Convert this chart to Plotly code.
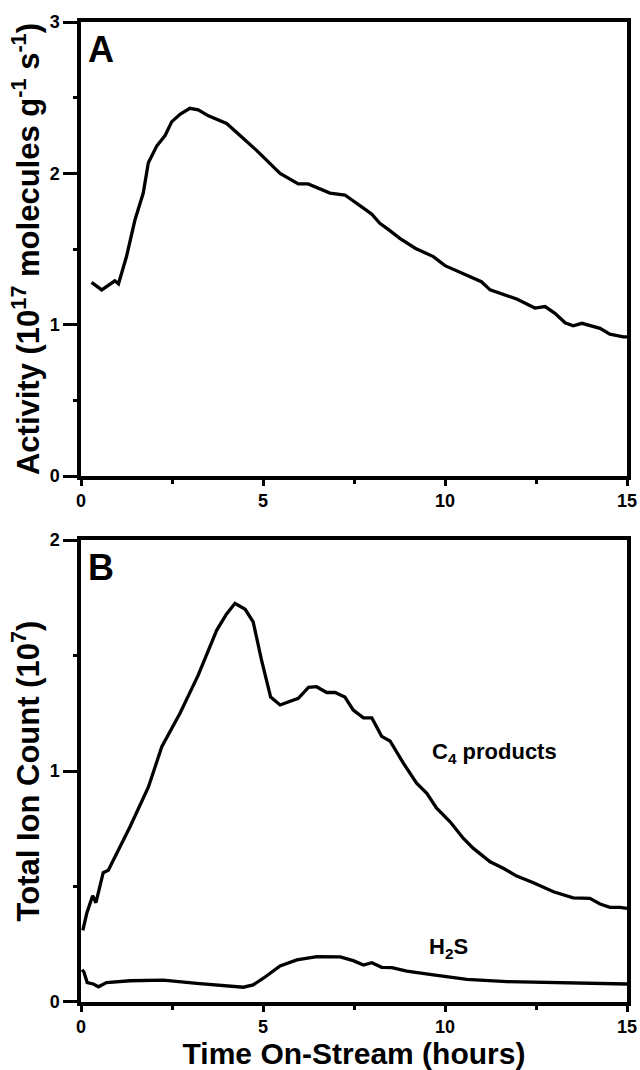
import plotly.graph_objects as go

# ---- Panel A: catalytic activity (10^17 molecules g^-1 s^-1) ----
act_x = [0.29, 0.57, 0.93, 1.03, 1.25, 1.48, 1.71, 1.85, 2.08, 2.31, 2.49, 2.72, 2.99,
         3.22, 3.5, 4.0, 4.37, 4.83, 5.47, 5.97, 6.24, 6.57, 6.84, 7.25, 7.48, 7.76,
         7.99, 8.21, 8.44, 8.76, 9.18, 9.68, 10.0, 10.46, 11.0, 11.24, 11.97, 12.47,
         12.75, 13.02, 13.3, 13.52, 13.76, 14.26, 14.53, 14.9, 15.0]
act_y = [1.28, 1.23, 1.29, 1.27, 1.45, 1.69, 1.87, 2.07, 2.18, 2.25, 2.34, 2.39, 2.43,
         2.42, 2.38, 2.33, 2.25, 2.15, 2.0, 1.93, 1.93, 1.895, 1.87, 1.857, 1.82, 1.77,
         1.73, 1.67, 1.63, 1.57, 1.505, 1.45, 1.39, 1.34, 1.284, 1.23, 1.17, 1.11,
         1.12, 1.075, 1.013, 0.993, 1.009, 0.976, 0.938, 0.92, 0.92]

# ---- Panel B: total ion count (10^7) ----
c4_x = [0.05, 0.16, 0.32, 0.41, 0.61, 0.75, 1.35, 1.85, 2.22, 2.72, 3.22, 3.73, 4.0,
        4.23, 4.51, 4.73, 4.96, 5.21, 5.47, 5.97, 6.25, 6.47, 6.75, 6.98, 7.25, 7.48,
        7.76, 7.99, 8.26, 8.49, 8.86, 9.22, 9.5, 9.77, 10.14, 10.5, 10.78, 11.24, 11.6,
        11.97, 12.43, 12.98, 13.52, 13.98, 14.26, 14.53, 14.81, 15.0]
c4_y = [0.31, 0.385, 0.46, 0.43, 0.56, 0.57, 0.76, 0.93, 1.105, 1.25, 1.415, 1.61, 1.68,
        1.726, 1.70, 1.646, 1.48, 1.32, 1.286, 1.315, 1.362, 1.365, 1.34, 1.34, 1.32,
        1.264, 1.23, 1.23, 1.15, 1.13, 1.033, 0.947, 0.903, 0.839, 0.78, 0.709, 0.665,
        0.607, 0.579, 0.545, 0.516, 0.477, 0.451, 0.449, 0.424, 0.41, 0.41, 0.405]

h2s_x = [0.03, 0.08, 0.17, 0.34, 0.48, 0.7, 1.35, 2.26, 3.18, 4.0, 4.46, 4.73, 5.01,
         5.47, 5.93, 6.48, 7.12, 7.48, 7.76, 7.99, 8.26, 8.54, 8.95, 9.68, 10.6, 11.7,
         13.07, 14.07, 15.0]
h2s_y = [0.14, 0.13, 0.084, 0.078, 0.066, 0.084, 0.092, 0.095, 0.081, 0.069, 0.064,
         0.074, 0.103, 0.156, 0.182, 0.196, 0.195, 0.179, 0.16, 0.17, 0.15, 0.149, 0.134,
         0.117, 0.098, 0.088, 0.084, 0.081, 0.078]

x_ticks = [0, 5, 10, 15]
a_ticks = [0, 1, 2, 3]
b_ticks = [0, 1, 2]

FONT = "Liberation Sans"
BLACK = "#000000"

fig = go.Figure()
line = dict(color=BLACK, width=3.3)
fig.add_trace(go.Scatter(x=act_x, y=act_y, mode="lines", line=line,
                         xaxis="x", yaxis="y", showlegend=False))
fig.add_trace(go.Scatter(x=c4_x, y=c4_y, mode="lines", line=line,
                         xaxis="x2", yaxis="y2", showlegend=False))
fig.add_trace(go.Scatter(x=h2s_x, y=h2s_y, mode="lines", line=line,
                         xaxis="x2", yaxis="y2", showlegend=False))

tickfont = dict(family=FONT, size=18, color=BLACK, weight="bold")
ytitlefont = dict(family=FONT, size=31, color=BLACK, weight="bold")
xtitlefont = dict(family=FONT, size=30, color=BLACK, weight="bold")

def xax(anchor, title=None):
    d = dict(anchor=anchor, domain=[0, 1], range=[0, 15], tickvals=x_ticks,
             ticks="outside", ticklen=6, tickwidth=3, tickcolor=BLACK,
             showline=True, linewidth=3.5, linecolor=BLACK, mirror=True,
             showgrid=False, zeroline=False, tickfont=tickfont,
             minor=dict(tickvals=[2.5, 7.5, 12.5], ticks="outside", ticklen=4,
                        tickwidth=3, tickcolor=BLACK, showgrid=False),
             automargin=False)
    if title:
        d["title"] = dict(text=title, font=xtitlefont, standoff=7)
    return d

def yax(anchor, dom, rng, vals, minors, title):
    return dict(anchor=anchor, domain=dom, range=rng, tickvals=vals,
                ticks="outside", ticklen=14, tickwidth=3, tickcolor=BLACK,
                showline=True, linewidth=3.5, linecolor=BLACK, mirror=True,
                showgrid=False, zeroline=False, tickfont=tickfont,
                minor=dict(tickvals=minors, ticks="outside", ticklen=4,
                           tickwidth=3, tickcolor=BLACK, showgrid=False),
                title=dict(text=title, font=ytitlefont, standoff=2),
                automargin=False)

fig.update_layout(
    width=640, height=1070,
    margin=dict(l=81, r=13, t=22, b=68),
    paper_bgcolor="white", plot_bgcolor="white",
    font=dict(family=FONT, color=BLACK),
    xaxis=xax("y"),
    yaxis=yax("x", [0.5367, 1.0], [0, 3], a_ticks, [0.5, 1.5, 2.5],
              "Activity (10<sup>17</sup> molecules g<sup>-1</sup> s<sup>-1</sup>)"),
    xaxis2=xax("y2", "Time On-Stream (hours)"),
    yaxis2=yax("x2", [0.0, 0.4714], [0, 2], b_ticks, [0.5, 1.5],
               "Total Ion Count (10<sup>7</sup>)"),
)

letter_font = dict(family=FONT, size=36, color=BLACK, weight="bold")
fig.add_annotation(text="A", xref="x domain", yref="y domain", x=0.01, y=0.99,
                   xanchor="left", yanchor="top", showarrow=False, font=letter_font)
fig.add_annotation(text="B", xref="x2 domain", yref="y2 domain", x=0.01, y=0.99,
                   xanchor="left", yanchor="top", showarrow=False, font=letter_font)

label_font = dict(family=FONT, size=22, color=BLACK, weight="bold")
fig.add_annotation(text="C<sub>4</sub> products", xref="x2", yref="y2", x=11.35, y=1.08,
                   showarrow=False, font=label_font)
fig.add_annotation(text="H<sub>2</sub>S", xref="x2", yref="y2", x=10.1, y=0.235,
                   showarrow=False, font=label_font)

fig.write_html("out.html")
